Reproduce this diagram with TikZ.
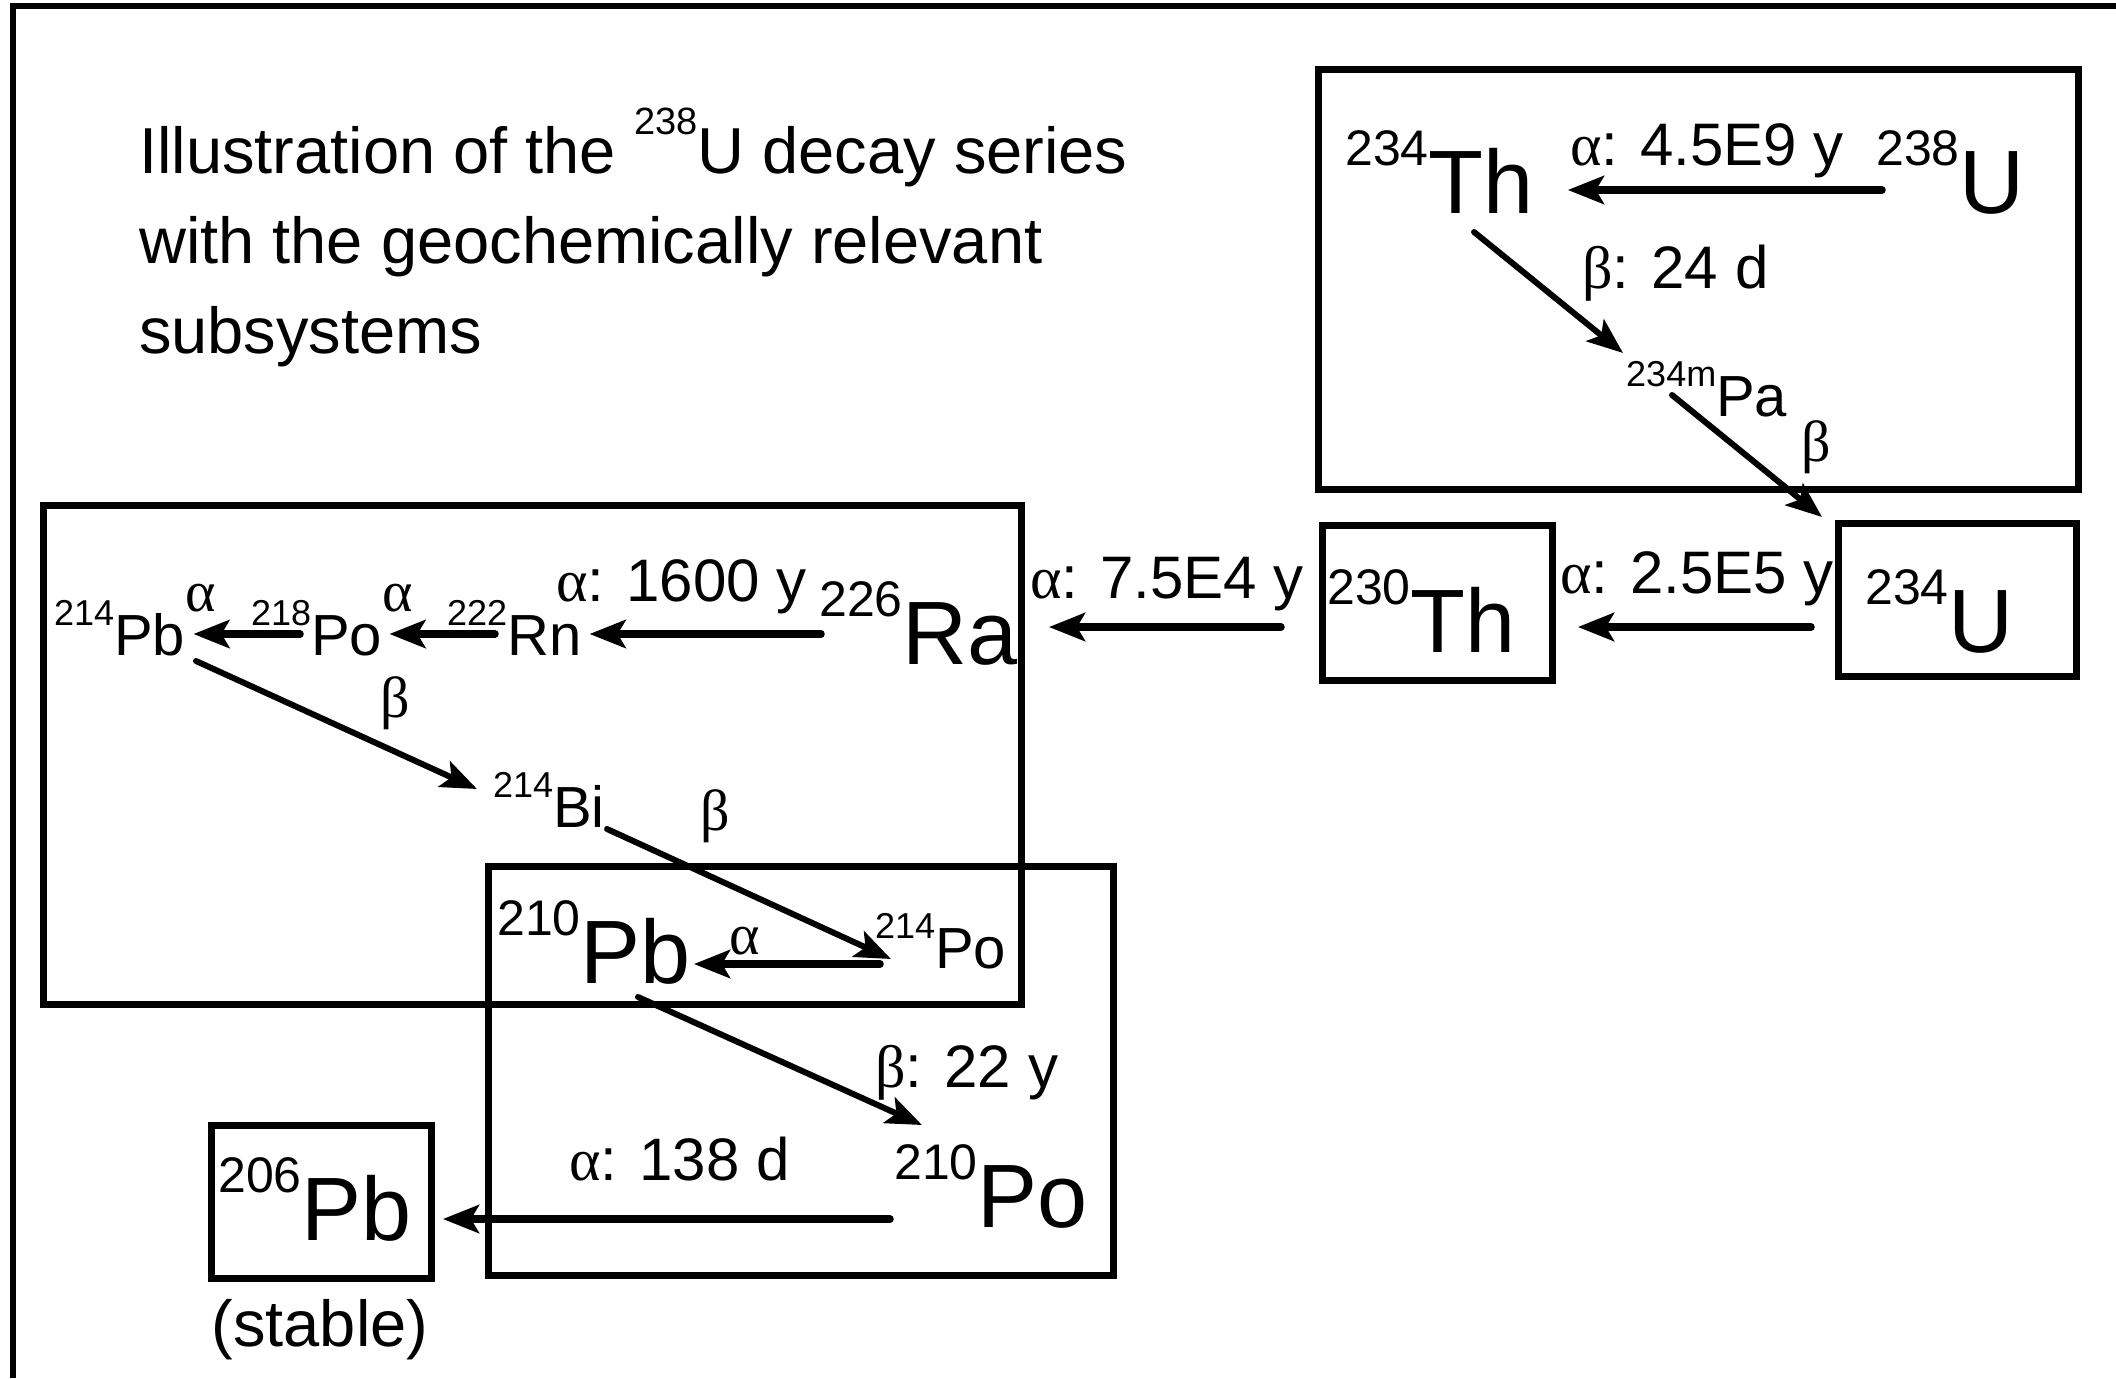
\documentclass[tikz,border=0pt]{standalone}
\usepackage{fontspec}
\setmainfont{Liberation Sans}
\newfontfamily\grk{Liberation Serif}
\usetikzlibrary{arrows.meta}
\newcommand\bignuc[2]{{\fontsize{50}{50}\selectfont\raisebox{48pt}{#1}}{\fontsize{90}{90}\selectfont #2}}
\newcommand\mednuc[2]{{\fontsize{36}{36}\selectfont\raisebox{30pt}{#1}}{\fontsize{58}{58}\selectfont #2}}
\newcommand\al{{\grk α}}
\newcommand\be{{\grk β}}
\tikzset{
  nuc/.style={inner sep=0pt, anchor=base west},
  lab/.style={inner sep=0pt, anchor=base west, font=\fontsize{60}{60}\selectfont},
  glab/.style={inner sep=0pt, font=\fontsize{58}{58}\selectfont\grk},
  ttl/.style={inner sep=0pt, anchor=base west, font=\fontsize{65}{65}\selectfont},
  arr/.style={line width=7.5pt, line cap=round, -{Stealth[length=36pt,width=28pt,inset=8pt]}},
  darr/.style={line width=6pt, line cap=round, -{Stealth[length=36pt,width=28pt,inset=8pt]}},
  boxline/.style={line width=7pt},
  frameline/.style={line width=6pt}
}
\begin{document}
\begin{tikzpicture}[x=1pt,y=-1pt]
\useasboundingbox (0,0) rectangle (2116,1378);
\fill[white] (0,0) rectangle (2116,1378);
% outer frame (top and left)
\draw[frameline] (13,1378) -- (13,6) -- (2116,6);
% title
\node[ttl] (t1) at (139,173) {Illustration of the {\fontsize{38}{38}\selectfont\raisebox{39pt}{238}}U decay series};
\node[ttl] (t2) at (139,263) {with the geochemically relevant};
\node[ttl] (t3) at (139,353) {subsystems};
% boxes
\draw[boxline] (1318,70) rectangle (2078,489);
\draw[boxline] (1838,523) rectangle (2076,676);
\draw[boxline] (1322,525) rectangle (1552,680);
\draw[boxline] (43,505) rectangle (1021,1004);
\draw[boxline] (488,866) rectangle (1113,1275);
\draw[boxline] (211,1125) rectangle (431,1278);
% nuclides
\node[nuc] (th234) at (1345,213) {\bignuc{234}{Th}};
\node[nuc] (u238) at (1876,213) {\bignuc{238}{U}};
\node[nuc] (pa234) at (1626,416) {\mednuc{234m}{Pa}};
\node[nuc] (u234) at (1865,652) {\bignuc{234}{U}};
\node[nuc] (th230) at (1327,652) {\bignuc{230}{Th}};
\node[nuc] (ra226) at (819,664) {\bignuc{226}{Ra}};
\node[nuc] (rn222) at (447,655) {\mednuc{222}{Rn}};
\node[nuc] (po218) at (251,655) {\mednuc{218}{Po}};
\node[nuc] (pb214) at (54,655) {\mednuc{214}{Pb}};
\node[nuc] (bi214) at (493,827) {\mednuc{214}{Bi}};
\node[nuc] (po214) at (875,968) {\mednuc{214}{Po}};
\node[nuc] (pb210) at (497,983) {\bignuc{210}{Pb}};
\node[nuc] (po210) at (894,1227) {\bignuc{210}{Po}};
\node[nuc] (pb206) at (218,1240) {\bignuc{206}{Pb}};
\node[ttl, anchor=base] (stable) at (320,1346) {(stable)};
% labels
\node[lab] (l1) at (1570,165) {\al: 4.5E9 y};
\node[lab] (l2) at (1582,288) {\be: 24 d};
\node[glab] (l3) at (1816,447) {β};
\node[lab] (l4) at (1560,593) {\al: 2.5E5 y};
\node[lab] (l5) at (1030,598) {\al: 7.5E4 y};
\node[lab] (l6) at (556,601) {\al: 1600 y};
\node[glab] (l7) at (398,598) {α};
\node[glab] (l8) at (201,598) {α};
\node[glab] (l9) at (395,703) {β};
\node[glab] (l10) at (715,816) {β};
\node[glab] (l11) at (745,941) {α};
\node[lab] (l12) at (875,1087) {\be: 22 y};
\node[lab] (l13) at (569,1180) {\al: 138 d};
% arrows
\draw[arr] ([xshift=6pt,yshift=23pt]u238.base west) -- ([xshift=34pt,yshift=23pt]th234.base east);
\draw[darr] ([xshift=129pt,yshift=-19pt]th234.base west) -- ([xshift=-3pt,yshift=63pt]pa234.base west);
\draw[darr] ([xshift=46pt,yshift=21pt]pa234.base west) -- ([xshift=-43pt,yshift=135pt]u234.base west);
\draw[arr] ([xshift=-54pt,yshift=25pt]u234.base west) -- ([xshift=62pt,yshift=25pt]th230.base east);
\draw[arr] ([xshift=-46pt,yshift=25pt]th230.base west) -- ([xshift=31pt,yshift=37pt]ra226.base east);
\draw[arr] ([xshift=2pt,yshift=30pt]ra226.base west) -- ([xshift=8pt,yshift=21pt]rn222.base east);
\draw[arr] ([xshift=48pt,yshift=21pt]rn222.base west) -- ([xshift=7pt,yshift=21pt]po218.base east);
\draw[arr] ([xshift=49pt,yshift=21pt]po218.base west) -- ([xshift=8pt,yshift=21pt]pb214.base east);
\draw[darr] ([xshift=142pt,yshift=-6pt]pb214.base west) -- ([xshift=-16pt,yshift=38pt]bi214.base west);
\draw[darr] ([xshift=2pt,yshift=-2pt]bi214.base east) -- ([xshift=16pt,yshift=9pt]po214.base west);
\draw[arr] ([xshift=5pt,yshift=4pt]po214.base west) -- ([xshift=3pt,yshift=19pt]pb210.base east);
\draw[darr] ([xshift=141pt,yshift=-14pt]pb210.base west) -- ([xshift=28pt,yshift=102pt]po210.base west);
\draw[arr] ([xshift=-4pt,yshift=8pt]po210.base west) -- ([xshift=31pt,yshift=21pt]pb206.base east);
\end{tikzpicture}
\end{document}
